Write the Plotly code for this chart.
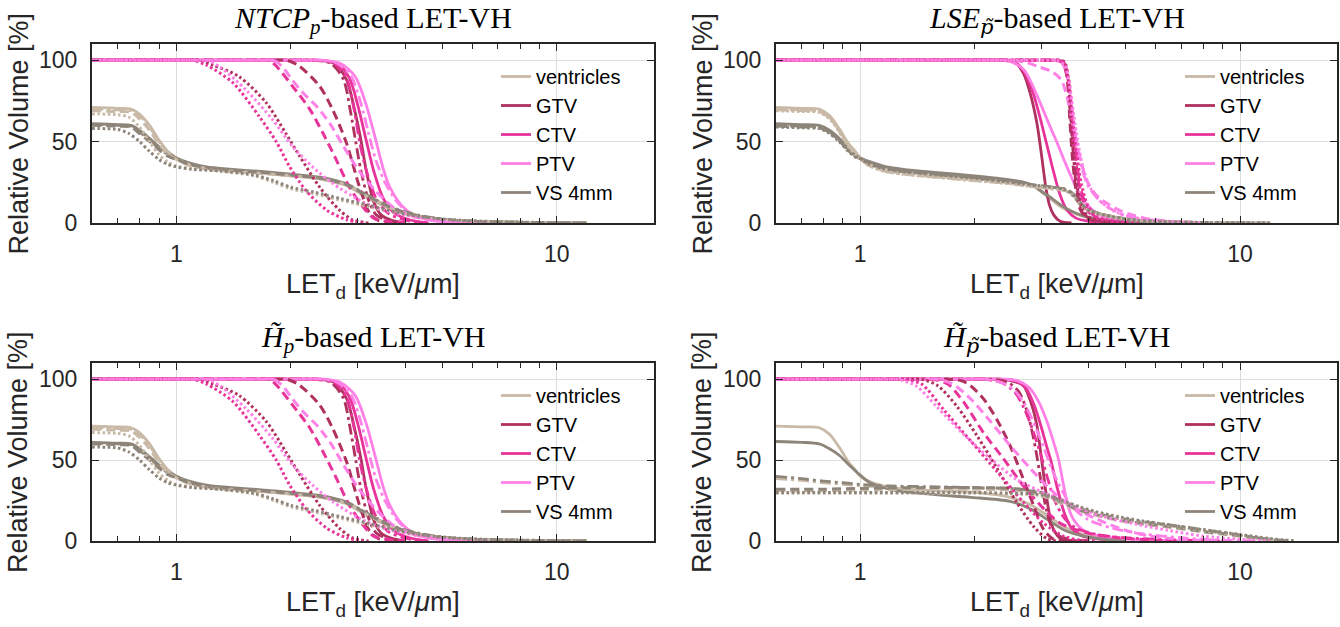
import math
import plotly.graph_objects as go

# ---------------------------------------------------------------- categories / styles
STRUCTURES = ["ventricles", "GTV", "CTV", "PTV", "VS 4mm"]
COLORS = ["#c9b9a7", "#b0305f", "#e8349a", "#ff80e6", "#8e857a"]
STYLES = ["solid", "dashdot", "dashed", "dotted"]
X_MAJOR = [1, 10]
X_MINOR = [0.6, 0.7, 0.8, 0.9, 2, 3, 4, 5, 6, 7, 8, 9]
Y_TICKS = [0, 50, 100]
PT = '<span style="font-family:DejaVu Serif">p\u0303</span>'
TITLES = [
    "<i>NTCP</i><sub><i>p</i></sub>-based LET-VH",
    "<i>LSE</i><sub><i>" + PT + "</i></sub>-based LET-VH",
    "<i>H\u0303</i><sub><i>p</i></sub>-based LET-VH",
    "<i>H\u0303</i><sub><i>" + PT + "</i></sub>-based LET-VH",
]

# ---------------------------------------------------------------- panel 1: NTCP_p
NTCP_VENT = {
    "solid": ([0.6, 0.7, 0.76, 0.8, 0.85, 0.9, 0.95, 1.0, 1.08, 1.2, 1.4, 1.7, 2.0, 2.4, 2.8, 3.1, 3.4, 3.8, 4.3, 5.0, 6.0, 8.0, 12],
              [71, 70.5, 70, 67, 60, 51, 44, 40, 36, 33.5, 32, 30.5, 29, 27, 23, 17, 12, 7, 4, 2, 1, 0.4, 0]),
    "dashdot": ([0.6, 0.7, 0.76, 0.8, 0.85, 0.9, 0.95, 1.0, 1.08, 1.2, 1.4, 1.7, 2.0, 2.4, 2.8, 3.1, 3.4, 3.8, 4.3, 5.0, 6.0, 8.0, 12],
                [70, 69.5, 69, 66, 59, 50, 43.5, 39.5, 36, 33.5, 32, 30.5, 29, 27, 23.5, 18, 13, 8, 4.5, 2.2, 1, 0.4, 0]),
    "dashed": ([0.6, 0.7, 0.76, 0.8, 0.85, 0.9, 0.95, 1.0, 1.08, 1.2, 1.4, 1.7, 2.0, 2.4, 2.8, 3.1, 3.4, 3.8, 4.3, 5.0, 6.0, 8.0, 12],
               [69, 68.5, 68, 64, 57, 48.5, 42.5, 39, 35.5, 33, 31.5, 30.5, 29, 27, 23, 17.5, 12.5, 7.5, 4.2, 2, 1, 0.4, 0]),
    "dotted": ([0.6, 0.7, 0.75, 0.8, 0.85, 0.9, 0.95, 1.0, 1.1, 1.3, 1.6, 1.8, 2.0, 2.3, 2.7, 3.2, 3.8, 4.5, 5.5, 7, 10, 12],
               [67, 66.5, 65, 59, 50, 42, 37.5, 35, 33.5, 32, 29, 25, 21, 18, 14, 10, 6, 3, 1.5, 0.6, 0.2, 0]),
}
NTCP_GTV = {
    "solid": ([0.6, 2.2, 2.35, 2.6, 2.8, 2.95, 3.06, 3.15, 3.3, 3.45, 3.7, 4.0],
              [100, 100, 100, 98, 88, 68, 50, 33, 13, 5, 1.5, 0]),
    "dashdot": ([0.6, 2.15, 2.3, 2.55, 2.75, 2.87, 2.96, 3.05, 3.2, 3.35, 3.6, 3.9],
                [100, 100, 100, 98, 88, 68, 50, 33, 14, 5, 1.5, 0]),
    "dashed": ([0.6, 1.82, 1.95, 2.1, 2.38, 2.57, 2.8, 3.03, 3.22, 3.4, 3.7],
               [100, 100, 100, 96.5, 84, 70, 49, 22, 6, 1.5, 0]),
    "dotted": ([0.6, 1.07, 1.15, 1.25, 1.46, 1.72, 1.94, 2.11, 2.38, 2.68, 2.9, 3.2],
               [100, 100, 100, 97, 90, 74, 55, 41, 22, 8, 2, 0]),
}
NTCP_CTV = {
    "solid": ([0.6, 2.24, 2.4, 2.65, 2.85, 3.0, 3.16, 3.3, 3.5, 3.75, 4.1, 4.6],
              [100, 100, 100, 98, 89, 72, 50, 32, 15, 6, 2, 0]),
    "dashdot": ([0.6, 2.2, 2.35, 2.6, 2.8, 2.93, 3.03, 3.15, 3.35, 3.6, 3.95, 4.5],
                [100, 100, 100, 98, 89, 70, 50, 33, 15, 6, 2, 0]),
    "dashed": ([0.6, 1.63, 1.75, 1.83, 2.02, 2.24, 2.43, 2.63, 2.85, 3.09, 3.3, 3.6, 4.0],
               [100, 100, 100, 96.5, 84, 70, 55, 39, 22, 10, 3, 1, 0]),
    "dotted": ([0.6, 1.03, 1.1, 1.2, 1.41, 1.65, 1.83, 1.98, 2.19, 2.48, 2.8, 3.1],
               [100, 100, 100, 97, 86, 65.5, 50, 35, 20, 8, 2, 0]),
}
NTCP_PTV = {
    "solid": ([0.6, 2.28, 2.45, 2.7, 2.95, 3.15, 3.35, 3.5, 3.64, 3.9, 4.2, 4.7, 5.5, 7],
              [100, 100, 100, 98, 90, 73, 50, 33, 22, 11, 5, 1.5, 0.5, 0]),
    "dashdot": ([0.6, 2.24, 2.4, 2.65, 2.88, 3.05, 3.2, 3.35, 3.55, 3.8, 4.1, 4.6, 5.5, 7],
                [100, 100, 100, 98, 90, 74, 55, 38, 24, 13, 6, 2, 0.5, 0]),
    "dashed": ([0.6, 1.68, 1.8, 1.9, 2.0, 2.15, 2.35, 2.55, 2.75, 3.0, 3.3, 3.7, 4.2, 5.0, 6.0],
               [100, 100, 100, 96, 89, 80, 71, 60, 47, 33, 21, 10, 4, 1, 0]),
    "dotted": ([0.6, 1.12, 1.2, 1.3, 1.52, 1.79, 2.02, 2.28, 2.57, 3.03, 3.5, 4.4, 5.5, 7],
               [100, 100, 100, 96, 82, 63.5, 47, 34.5, 24.5, 14, 8, 3, 0.8, 0]),
}
NTCP_VS = {
    "solid": ([0.6, 0.7, 0.76, 0.8, 0.85, 0.9, 0.95, 1.0, 1.08, 1.2, 1.4, 1.7, 2.0, 2.4, 2.8, 3.1, 3.4, 3.8, 4.3, 5.0, 6.0, 8.0, 12],
              [61, 60.5, 60, 57, 52, 47, 43, 40, 37, 34.5, 33, 31.5, 30, 28, 24, 18, 13, 8, 4.5, 2.2, 1, 0.4, 0]),
    "dashdot": ([0.6, 0.7, 0.76, 0.8, 0.85, 0.9, 0.95, 1.0, 1.08, 1.2, 1.4, 1.7, 2.0, 2.4, 2.8, 3.1, 3.4, 3.8, 4.3, 5.0, 6.0, 8.0, 12],
                [60.5, 60, 59.5, 56, 51, 46, 42, 39.5, 36.5, 34, 32.5, 31, 29.5, 27.5, 24, 18.5, 13.5, 8.5, 5, 2.4, 1.1, 0.4, 0]),
    "dashed": ([0.6, 0.7, 0.76, 0.8, 0.85, 0.9, 0.95, 1.0, 1.08, 1.2, 1.4, 1.7, 2.0, 2.4, 2.8, 3.1, 3.4, 3.8, 4.3, 5.0, 6.0, 8.0, 12],
               [60, 59.5, 59, 55, 50, 45, 41, 39, 36, 34, 32.5, 31, 29.5, 27.5, 23.5, 18, 13, 8, 4.5, 2.2, 1, 0.4, 0]),
    "dotted": ([0.6, 0.7, 0.75, 0.8, 0.85, 0.9, 0.95, 1.0, 1.1, 1.3, 1.6, 1.8, 2.0, 2.3, 2.7, 3.2, 3.8, 4.5, 5.5, 7, 10, 12],
               [58, 57.5, 55, 50, 44, 39, 36, 34.5, 33, 32, 29.5, 26, 22, 19, 15, 11, 6.5, 3.5, 1.8, 0.8, 0.2, 0]),
}

# ---------------------------------------------------------------- panel 2: LSE_p~
LSE_VENT = {
    "solid": ([0.6, 0.7, 0.78, 0.83, 0.88, 0.93, 0.97, 1.0, 1.05, 1.15, 1.3, 1.6, 2.0, 2.4, 2.7, 2.85, 3.0, 3.2, 3.4, 3.7, 4.0, 4.5, 5.5, 7],
              [71, 70.5, 70, 66, 58, 49, 44, 40, 37, 34, 32, 30, 28, 26.5, 25, 23, 19, 14, 9.5, 5.5, 3, 1.2, 0.3, 0]),
    "dashdot": ([0.6, 0.7, 0.78, 0.83, 0.88, 0.93, 0.97, 1.0, 1.05, 1.15, 1.3, 1.6, 2.0, 2.4, 2.8, 3.2, 3.5, 3.65, 3.8, 4.0, 4.4, 5.0, 6.0, 8.0, 12],
                [69.5, 69, 68.5, 64.5, 56.5, 47.5, 42.5, 39.5, 35.5, 32, 30, 28, 26, 24.5, 22.5, 21, 19.5, 16, 11, 7.5, 4.8, 2.4, 1, 0.3, 0]),
    "dashed": ([0.6, 0.7, 0.78, 0.83, 0.88, 0.93, 0.97, 1.0, 1.05, 1.15, 1.3, 1.6, 2.0, 2.4, 2.8, 3.2, 3.5, 3.65, 3.8, 4.0, 4.4, 5.0, 6.0, 8.0, 12],
               [70, 69.5, 69, 65, 57, 48, 43, 40, 36, 32.5, 30.5, 28.5, 26.5, 25, 23, 21.5, 20, 17, 12, 8, 5, 2.5, 1, 0.3, 0]),
    "dotted": ([0.6, 0.7, 0.78, 0.83, 0.88, 0.93, 0.97, 1.0, 1.05, 1.15, 1.3, 1.6, 2.0, 2.4, 2.8, 3.2, 3.5, 3.65, 3.8, 4.0, 4.4, 5.0, 6.0, 8.0, 12],
               [69, 68.5, 68, 64, 56, 47, 42, 39.5, 35.5, 32, 30, 28, 26, 24.5, 22.5, 21, 19.5, 16.5, 11.5, 7.5, 4.8, 2.4, 1, 0.3, 0]),
}
LSE_GTV = {
    "solid": ([0.6, 2.24, 2.4, 2.55, 2.69, 2.8, 2.92, 3.0, 3.08, 3.15, 3.23, 3.36, 3.6],
              [100, 100, 100, 99, 92, 80, 61, 42, 22, 11, 5, 1, 0]),
    "dashdot": ([0.6, 3.1, 3.3, 3.43, 3.5, 3.57, 3.64, 3.72, 3.85, 4.0, 4.3, 4.8],
                [100, 100, 100, 99, 92, 68, 42, 20, 7, 3, 1, 0]),
    "dashed": ([0.6, 3.1, 3.3, 3.42, 3.5, 3.56, 3.62, 3.7, 3.8, 3.95, 4.2, 4.6],
               [100, 100, 100, 99, 90, 65, 40, 20, 8, 3, 1, 0]),
    "dotted": ([0.6, 3.12, 3.35, 3.45, 3.52, 3.58, 3.65, 3.74, 3.86, 4.05, 4.4, 5.0],
               [100, 100, 100, 99, 90, 68, 42, 20, 8, 3, 1, 0]),
}
LSE_CTV = {
    "solid": ([0.6, 2.24, 2.4, 2.55, 2.7, 2.85, 2.98, 3.1, 3.2, 3.35, 3.5, 3.7, 4.0, 4.5],
              [100, 100, 100, 99, 93, 80, 64, 48, 35, 18, 8, 3, 1, 0]),
    "dashdot": ([0.6, 3.1, 3.3, 3.44, 3.53, 3.61, 3.7, 3.8, 3.95, 4.15, 4.6, 5.2],
                [100, 100, 100, 98, 88, 65, 42, 22, 10, 4, 1, 0]),
    "dashed": ([0.6, 3.1, 3.3, 3.43, 3.52, 3.6, 3.68, 3.78, 3.92, 4.1, 4.5, 5.0],
               [100, 100, 100, 98, 88, 65, 42, 22, 10, 4, 1, 0]),
    "dotted": ([0.6, 3.12, 3.35, 3.45, 3.54, 3.62, 3.71, 3.82, 3.97, 4.2, 4.7, 5.5],
               [100, 100, 100, 98, 88, 66, 44, 24, 11, 4, 1, 0]),
}
LSE_PTV = {
    "solid": ([0.6, 2.2, 2.35, 2.5, 2.7, 2.85, 3.0, 3.15, 3.29, 3.45, 3.6, 3.72, 3.9, 4.2, 4.6, 5.5, 7],
              [100, 100, 100, 99, 94, 84, 72, 60, 50, 38, 28, 21, 13, 6, 2.5, 0.5, 0]),
    "dashdot": ([0.6, 3.0, 3.2, 3.4, 3.52, 3.62, 3.72, 3.85, 4.0, 4.3, 4.8, 5.5, 6.5, 8],
                [100, 100, 100, 98, 88, 68, 48, 32, 22, 13, 6, 2.5, 1, 0]),
    "dashed": ([0.6, 2.33, 2.5, 2.7, 2.95, 3.2, 3.38, 3.5, 3.6, 3.7, 3.82, 3.95, 4.15, 4.4, 4.9, 5.6, 6.5, 8],
               [100, 100, 100, 99, 96, 93, 88, 78, 65, 51, 37, 26, 18, 13, 7, 3, 1, 0]),
    "dotted": ([0.6, 3.1, 3.3, 3.45, 3.55, 3.65, 3.75, 3.88, 4.05, 4.35, 4.8, 5.5, 6.5, 8],
               [100, 100, 100, 97, 86, 66, 48, 32, 21, 12, 6, 2.5, 1, 0]),
}
LSE_VS = {
    "solid": ([0.6, 0.7, 0.78, 0.83, 0.88, 0.93, 0.97, 1.0, 1.05, 1.15, 1.3, 1.6, 2.0, 2.4, 2.7, 2.85, 3.0, 3.2, 3.4, 3.7, 4.0, 4.5, 5.5, 7],
              [61, 60.5, 60, 57, 52, 46, 42, 40, 38, 35, 33, 31, 29, 27, 25, 23, 19.5, 15, 10.5, 6, 3.5, 1.5, 0.4, 0]),
    "dashdot": ([0.6, 0.7, 0.78, 0.83, 0.88, 0.93, 0.97, 1.0, 1.05, 1.15, 1.3, 1.6, 2.0, 2.4, 2.8, 3.2, 3.5, 3.65, 3.8, 4.0, 4.4, 5.0, 6.0, 8.0, 12],
                [59.5, 59, 58.5, 55.5, 50.5, 44.5, 41, 39.5, 36.5, 33.5, 31.5, 29.5, 27.5, 25.5, 23.5, 22, 20.5, 17, 12, 8, 5, 2.5, 1, 0.3, 0]),
    "dashed": ([0.6, 0.7, 0.78, 0.83, 0.88, 0.93, 0.97, 1.0, 1.05, 1.15, 1.3, 1.6, 2.0, 2.4, 2.8, 3.2, 3.5, 3.65, 3.8, 4.0, 4.4, 5.0, 6.0, 8.0, 12],
               [60, 59.5, 59, 56, 51, 45, 41.5, 40, 37, 34, 32, 30, 28, 26, 23.5, 22, 20.5, 17.5, 12.5, 8, 5, 2.5, 1, 0.3, 0]),
    "dotted": ([0.6, 0.7, 0.78, 0.83, 0.88, 0.93, 0.97, 1.0, 1.05, 1.15, 1.3, 1.6, 2.0, 2.4, 2.8, 3.2, 3.5, 3.65, 3.8, 4.0, 4.4, 5.0, 6.0, 8.0, 12],
               [59, 58.5, 58, 55, 50, 44, 40.5, 39.5, 36.5, 33.5, 31.5, 29.5, 27.5, 25.5, 23.5, 22, 20, 16.5, 12, 7.8, 4.8, 2.4, 1, 0.3, 0]),
}

# ---------------------------------------------------------------- panel 3: H~_p (reads the same as panel 1)
HP_VENT = NTCP_VENT
HP_GTV = NTCP_GTV
HP_CTV = NTCP_CTV
HP_PTV = NTCP_PTV
HP_VS = NTCP_VS

# ---------------------------------------------------------------- panel 4: H~_p~
HPT_VENT = {
    "solid": ([0.6, 0.7, 0.78, 0.83, 0.88, 0.93, 0.97, 1.0, 1.05, 1.15, 1.3, 1.6, 2.0, 2.48, 2.8, 3.1, 3.43, 3.87, 4.4, 5.0],
              [71, 70.5, 70, 66, 58, 49, 44, 40, 37, 34, 32, 31, 30, 27, 22.5, 16, 9, 4, 1.5, 0]),
    "dashdot": ([0.6, 0.7, 0.8, 0.9, 1.0, 1.2, 1.6, 2.0, 2.5, 2.8, 3.1, 3.4, 3.7, 4.0, 4.6, 5.3, 6.5, 8, 9.5, 11, 13],
                [38.5, 37.5, 36, 35, 34, 33.5, 33, 32.5, 32, 31, 28.5, 24.5, 20.5, 18, 14.5, 12, 9.5, 6.5, 4, 2, 0]),
    "dashed": ([0.6, 0.8, 1.0, 1.5, 2.0, 2.5, 2.8, 3.1, 3.4, 3.7, 4.0, 4.6, 5.3, 6.5, 8, 9.5, 11, 13],
               [31, 31, 31.5, 32, 32, 31.5, 30, 27, 23, 19.5, 17, 13.5, 11, 8.5, 5.5, 3.5, 1.5, 0]),
    "dotted": ([0.6, 1.0, 1.5, 2.0, 2.5, 2.9, 3.2, 3.5, 3.8, 4.2, 4.8, 5.5, 6.5, 8, 10, 12, 14],
               [29.5, 29.5, 29.5, 29.5, 29, 28.5, 26.5, 23.5, 20.5, 17.5, 14.5, 12, 9.5, 6.5, 3.5, 1.2, 0]),
}
HPT_GTV = {
    "solid": ([0.6, 2.15, 2.3, 2.5, 2.69, 2.82, 2.92, 3.0, 3.1, 3.17, 3.23, 3.35, 3.5, 4.0],
              [100, 100, 100, 99, 96, 85, 71, 51, 26, 13, 7, 2, 0.5, 0]),
    "dashdot": ([0.6, 2.05, 2.2, 2.45, 2.62, 2.75, 2.85, 2.93, 3.0, 3.1, 3.2, 3.35, 3.6, 4.0],
                [100, 100, 100, 98, 92, 80, 65, 50, 35, 18, 8, 3, 1, 0]),
    "dashed": ([0.6, 1.58, 1.7, 1.85, 1.95, 2.11, 2.29, 2.48, 2.69, 2.86, 3.04, 3.23, 3.5],
               [100, 100, 100, 99, 96, 88, 75, 59, 38, 22, 7, 1, 0]),
    "dotted": ([0.6, 1.35, 1.45, 1.6, 1.8, 2.03, 2.29, 2.58, 2.86, 3.1, 3.3],
               [100, 100, 100, 96, 83, 65, 45, 24, 9, 1.5, 0]),
}
HPT_CTV = {
    "solid": ([0.6, 2.15, 2.3, 2.55, 2.72, 2.87, 3.0, 3.1, 3.19, 3.3, 3.45, 3.6, 3.85, 4.3, 5.0],
              [100, 100, 100, 99, 95, 84, 70, 58, 48, 33, 17, 8, 3, 1, 0]),
    "dashdot": ([0.6, 1.96, 2.1, 2.35, 2.55, 2.7, 2.85, 3.0, 3.12, 3.25, 3.45, 3.7, 4.2, 5.0, 6.5, 9.0],
                [100, 100, 100, 98, 92, 82, 68, 52, 38, 25, 14, 8, 4, 2, 0.8, 0]),
    "dashed": ([0.6, 1.45, 1.55, 1.7, 1.87, 2.11, 2.38, 2.69, 3.04, 3.36, 3.95, 4.8, 6.0, 8.0],
               [100, 100, 100, 97, 86, 67, 51, 34, 20, 11, 5, 2, 0.5, 0]),
    "dotted": ([0.6, 1.21, 1.3, 1.45, 1.66, 1.95, 2.29, 2.69, 3.04, 3.43, 3.8, 4.2],
               [100, 100, 100, 97, 81, 62, 43, 24, 11, 3, 0.5, 0]),
}
HPT_PTV = {
    "solid": ([0.6, 2.2, 2.35, 2.6, 2.78, 2.95, 3.1, 3.22, 3.33, 3.42, 3.52, 3.65, 3.85, 4.2, 4.8, 6.0, 8.0],
              [100, 100, 100, 99, 95, 86, 74, 62, 50, 36, 22, 13, 7, 3.5, 1.5, 0.5, 0]),
    "dashdot": ([0.6, 1.96, 2.1, 2.35, 2.55, 2.72, 2.9, 3.05, 3.2, 3.4, 3.65, 4.0, 4.6, 5.5, 7.0, 9.0, 11.0],
                [100, 100, 100, 98, 93, 84, 70, 57, 44, 31, 20, 13, 8, 4.5, 2, 0.5, 0]),
    "dashed": ([0.6, 1.5, 1.6, 1.75, 1.95, 2.2, 2.48, 2.8, 3.16, 3.57, 4.2, 4.93, 5.8, 7.0, 9.0],
               [100, 100, 100, 97, 88, 74, 59, 45, 32, 22, 13.5, 7, 3, 1, 0]),
    "dotted": ([0.6, 1.17, 1.25, 1.4, 1.59, 1.87, 2.2, 2.58, 3.1, 3.72, 4.37, 5.3, 6.5, 8.0, 10, 12],
               [100, 100, 100, 96, 83, 66, 51, 38, 29, 21, 15, 10.5, 6.5, 3, 1, 0]),
}
HPT_VS = {
    "solid": ([0.6, 0.7, 0.78, 0.83, 0.88, 0.93, 0.98, 1.06, 1.15, 1.3, 1.6, 1.95, 2.48, 2.8, 3.1, 3.43, 3.87, 4.4, 5.0],
              [61.5, 61, 60, 57, 53, 47.5, 42.5, 36, 33, 30.5, 28.5, 27, 24.5, 20, 13.5, 7, 3, 1, 0]),
    "dashdot": ([0.6, 0.7, 0.8, 0.9, 1.0, 1.2, 1.6, 2.0, 2.5, 2.8, 3.1, 3.4, 3.7, 4.0, 4.6, 5.3, 6.5, 8, 9.5, 11, 13.5],
                [40, 38.5, 37, 36, 35, 34, 33.5, 33, 32.5, 31.5, 29, 25, 21, 18.5, 15, 12.5, 10, 7, 4.5, 2, 0]),
    "dashed": ([0.6, 0.8, 1.0, 1.5, 2.0, 2.5, 2.8, 3.1, 3.4, 3.7, 4.0, 4.6, 5.3, 6.5, 8, 9.5, 11, 13],
               [32, 32, 32.5, 33, 33, 32.5, 31, 28, 24, 20, 17.5, 14, 11.5, 9, 6, 4, 2, 0]),
    "dotted": ([0.6, 1.0, 1.5, 2.0, 2.5, 2.9, 3.2, 3.5, 3.8, 4.2, 4.8, 5.5, 6.5, 8, 10, 12, 14],
               [30, 30, 30, 30, 29.5, 29, 27, 24, 21, 18, 15, 12.5, 10, 7, 4, 1.5, 0]),
}

PANEL_DATA = [
    [NTCP_VENT, NTCP_GTV, NTCP_CTV, NTCP_PTV, NTCP_VS],
    [LSE_VENT, LSE_GTV, LSE_CTV, LSE_PTV, LSE_VS],
    [HP_VENT, HP_GTV, HP_CTV, HP_PTV, HP_VS],
    [HPT_VENT, HPT_GTV, HPT_CTV, HPT_PTV, HPT_VS],
]

# ---------------------------------------------------------------- layout geometry (pixels)
W, H = 1340, 627
PANEL_X = [(92, 654), (776, 1337), (92, 654), (776, 1337)]
PANEL_Y = [(44, 223), (44, 223), (363, 541), (363, 541)]

DASH = {"solid": "solid", "dashdot": "11px,4px,3px,4px", "dashed": "9px,5px", "dotted": "2.6px,2.6px"}
WIDTH = {"solid": 2.8, "dashdot": 2.8, "dashed": 3.0, "dotted": 3.0}
SANS = "Liberation Sans, Arial, Helvetica, sans-serif"
SERIF = "Liberation Serif, Times New Roman, serif"
AXC = "#262626"

fig = go.Figure()
for p, pdata in enumerate(PANEL_DATA):
    sfx = "" if p == 0 else str(p + 1)
    legend_name = "legend" if p == 0 else f"legend{p + 1}"
    for style in STYLES:
        for s_name, color, sdata in zip(STRUCTURES, COLORS, pdata):
            xs, ys = sdata[style]
            fig.add_trace(go.Scatter(
                x=xs, y=ys, mode="lines", name=s_name,
                line=dict(color=color, width=WIDTH[style], dash=DASH[style], shape="spline", smoothing=0.8),
                xaxis="x" + sfx, yaxis="y" + sfx,
                showlegend=(style == "solid"), legend=legend_name, hoverinfo="skip",
            ))

layout = dict(
    width=W, height=H, autosize=False, margin=dict(l=0, r=0, t=0, b=0, autoexpand=False),
    paper_bgcolor="white", plot_bgcolor="white",
    font=dict(family=SANS, color=AXC), showlegend=True,
)
annotations = []
for p in range(4):
    sfx = "" if p == 0 else str(p + 1)
    x0, x1 = PANEL_X[p]
    y0, y1 = PANEL_Y[p]
    xd = [x0 / W, x1 / W]
    yd = [1 - y1 / H, 1 - y0 / H]
    layout["xaxis" + sfx] = dict(
        type="log", range=[math.log10(0.6), math.log10(18)], domain=xd, anchor="y" + sfx,
        tickmode="array", tickvals=X_MAJOR, ticktext=[str(v) for v in X_MAJOR],
        ticks="inside", ticklen=7, tickwidth=1.3, tickcolor=AXC,
        minor=dict(tickmode="array", tickvals=X_MINOR, ticks="inside", ticklen=5,
                   tickwidth=1.3, tickcolor=AXC, showgrid=False),
        showgrid=True, gridcolor="#dddddd", gridwidth=1.3,
        showline=True, linecolor=AXC, linewidth=2, mirror="ticks", zeroline=False,
        tickfont=dict(size=23, color=AXC, family=SANS), ticklabelstandoff=9, automargin=False,
    )
    layout["yaxis" + sfx] = dict(
        range=[0, 110], domain=yd, anchor="x" + sfx,
        tickmode="array", tickvals=Y_TICKS, ticks="inside", ticklen=7, tickwidth=1.3, tickcolor=AXC,
        showgrid=True, gridcolor="#dddddd", gridwidth=1.3,
        showline=True, linecolor=AXC, linewidth=2, mirror="ticks", zeroline=False,
        tickfont=dict(size=23, color=AXC, family=SANS), ticklabelstandoff=8, automargin=False,
    )
    legend_name = "legend" if p == 0 else f"legend{p + 1}"
    layout[legend_name] = dict(
        x=(x0 + 404) / W, y=1 - (y0 + 13) / H, xanchor="left", yanchor="top",
        bgcolor="rgba(0,0,0,0)", borderwidth=0,
        font=dict(size=20, color="black", family=SANS), traceorder="normal",
        itemwidth=30, tracegroupgap=0,
    )
    cx = (x0 + x1) / 2
    annotations.append(dict(text=TITLES[p], x=cx / W, y=1 - (y0 - 24) / H, xref="paper", yref="paper",
                            xanchor="center", yanchor="middle", showarrow=False,
                            font=dict(family=SERIF, size=30, color="black")))
    annotations.append(dict(text="LET<sub>d</sub> [keV/<i>\u03bc</i>m]", x=cx / W, y=1 - (y1 + 63) / H,
                            xref="paper", yref="paper", xanchor="center", yanchor="middle", showarrow=False,
                            font=dict(family=SANS, size=27, color=AXC)))
    annotations.append(dict(text="Relative Volume [%]", x=(x0 - 74) / W, y=1 - ((y0 + y1) / 2) / H,
                            xref="paper", yref="paper", xanchor="center", yanchor="middle", showarrow=False,
                            textangle=-90, font=dict(family=SANS, size=27, color=AXC)))
layout["annotations"] = annotations
fig.update_layout(**layout)
fig.write_html(
    "out.html",
    config={"displayModeBar": False, "responsive": False},
    post_script=(
        "document.documentElement.style.margin='0';document.documentElement.style.overflow='hidden';"
        "document.body.style.margin='0';document.body.style.overflow='hidden';"
        "document.body.style.height='627px';"
    ),
)
